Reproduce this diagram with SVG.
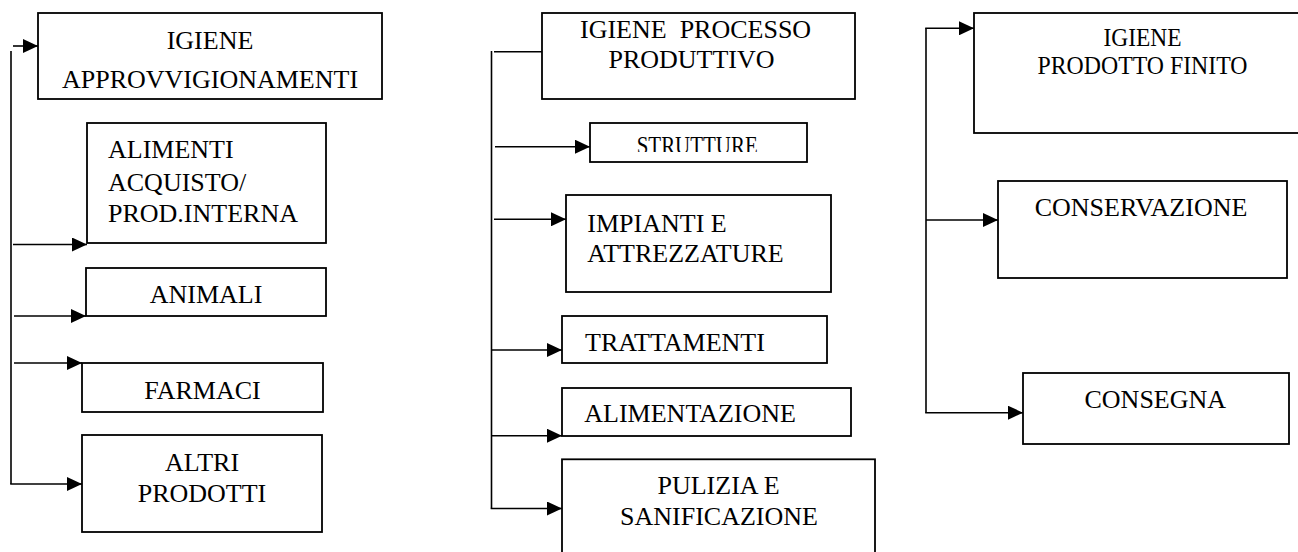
<svg xmlns="http://www.w3.org/2000/svg" width="1298" height="552" viewBox="0 0 1298 552">
  <style>
    .box { fill: #ffffff; stroke: #000000; stroke-width: 1.8; }
    .lbl { font-family: "Liberation Serif", "Times New Roman", serif; font-size: 26px; fill: #000000; }
    .mid { text-anchor: middle; }
    .wire { fill: none; stroke: #000000; stroke-width: 1.6; }
    .arrow { fill: none; stroke: #000000; stroke-width: 1.6; marker-end: url(#head); }
  </style>
  <defs>
    <marker id="head" markerUnits="userSpaceOnUse" markerWidth="15" markerHeight="14" refX="15" refY="7" orient="auto">
      <path d="M0,0 L15,7 L0,14 z" fill="#000000"/>
    </marker>
    <clipPath id="clipStrutture">
      <rect x="590" y="123" width="217" height="29"/>
    </clipPath>
  </defs>
  <rect width="1298" height="552" fill="#ffffff"/>

  <!-- connectors -->
  <g id="connectors">
    <!-- supply hygiene branch -->
    <line class="wire" x1="11" y1="51" x2="11" y2="484"/>
    <line class="arrow" x1="13" y1="46" x2="38" y2="46"/>
    <line class="arrow" x1="13" y1="244.5" x2="87" y2="244.5"/>
    <line class="arrow" x1="14" y1="316" x2="86" y2="316"/>
    <line class="arrow" x1="14" y1="363" x2="82" y2="363"/>
    <line class="arrow" x1="10.2" y1="484" x2="82" y2="484"/>
    <!-- production process branch -->
    <line class="wire" x1="491.5" y1="51" x2="491.5" y2="508.5"/>
    <line class="wire" x1="494" y1="51.7" x2="542" y2="51.7"/>
    <line class="arrow" x1="495" y1="146.7" x2="590" y2="146.7"/>
    <line class="arrow" x1="494" y1="219.3" x2="566" y2="219.3"/>
    <line class="arrow" x1="491.5" y1="350" x2="562" y2="350"/>
    <line class="arrow" x1="491.5" y1="435.7" x2="562" y2="435.7"/>
    <line class="arrow" x1="490.7" y1="508.5" x2="562" y2="508.5"/>
    <!-- finished product branch -->
    <line class="wire" x1="926" y1="28.3" x2="926" y2="412.7"/>
    <line class="arrow" x1="925.2" y1="28.3" x2="974" y2="28.3"/>
    <line class="arrow" x1="926" y1="220" x2="998" y2="220"/>
    <line class="arrow" x1="925.2" y1="412.7" x2="1023" y2="412.7"/>
  </g>

  <!-- left column -->
  <g id="igiene-approvvigionamenti">
    <rect class="box" x="38" y="13" width="344" height="86"/>
    <text class="lbl mid" x="210" y="49">IGIENE</text>
    <text class="lbl mid" x="210" y="87.7">APPROVVIGIONAMENTI</text>
  </g>
  <g id="alimenti">
    <rect class="box" x="87" y="123" width="239" height="120"/>
    <text class="lbl" x="108" y="157.7">ALIMENTI</text>
    <text class="lbl" x="108" y="190.7">ACQUISTO/</text>
    <text class="lbl" x="108" y="221.7">PROD.INTERNA</text>
  </g>
  <g id="animali">
    <rect class="box" x="86" y="268" width="240" height="48"/>
    <text class="lbl mid" x="206" y="303.3">ANIMALI</text>
  </g>
  <g id="farmaci">
    <rect class="box" x="82" y="363" width="241" height="49"/>
    <text class="lbl mid" x="202.5" y="399">FARMACI</text>
  </g>
  <g id="altri-prodotti">
    <rect class="box" x="82" y="435" width="240" height="97"/>
    <text class="lbl mid" x="202" y="471">ALTRI</text>
    <text class="lbl mid" x="202" y="501.7">PRODOTTI</text>
  </g>

  <!-- middle column -->
  <g id="igiene-processo">
    <rect class="box" x="542" y="13" width="313" height="86"/>
    <text class="lbl" x="580" y="37.7" xml:space="preserve">IGIENE  PROCESSO</text>
    <text class="lbl mid" x="691.5" y="68.3">PRODUTTIVO</text>
  </g>
  <g id="strutture">
    <rect class="box" x="590" y="123" width="217" height="39"/>
    <text class="lbl" x="636.7" y="154" font-size="21" textLength="121" lengthAdjust="spacingAndGlyphs" clip-path="url(#clipStrutture)">STRUTTURE</text>
  </g>
  <g id="impianti">
    <rect class="box" x="566" y="195" width="265" height="97"/>
    <text class="lbl" x="587.3" y="231.7">IMPIANTI E</text>
    <text class="lbl" x="587.3" y="261.7">ATTREZZATURE</text>
  </g>
  <g id="trattamenti">
    <rect class="box" x="562" y="316" width="265" height="47"/>
    <text class="lbl" x="585" y="350.7">TRATTAMENTI</text>
  </g>
  <g id="alimentazione">
    <rect class="box" x="562" y="388" width="289" height="48"/>
    <text class="lbl" x="584.3" y="422.3">ALIMENTAZIONE</text>
  </g>
  <g id="pulizia">
    <rect class="box" x="562" y="459.3" width="313" height="100"/>
    <text class="lbl mid" x="718.5" y="494.3">PULIZIA E</text>
    <text class="lbl mid" x="719" y="525">SANIFICAZIONE</text>
  </g>

  <!-- right column -->
  <g id="igiene-prodotto-finito">
    <rect class="box" x="974" y="13" width="330" height="120"/>
    <text class="lbl mid" x="1142.5" y="45.7" font-size="21" textLength="78" lengthAdjust="spacingAndGlyphs">IGIENE</text>
    <text class="lbl mid" x="1142.5" y="74" font-size="21" textLength="210" lengthAdjust="spacingAndGlyphs">PRODOTTO FINITO</text>
  </g>
  <g id="conservazione">
    <rect class="box" x="998" y="181" width="289" height="97"/>
    <text class="lbl mid" x="1141" y="216">CONSERVAZIONE</text>
  </g>
  <g id="consegna">
    <rect class="box" x="1023" y="373" width="266" height="71"/>
    <text class="lbl mid" x="1155.3" y="408.3">CONSEGNA</text>
  </g>
</svg>
